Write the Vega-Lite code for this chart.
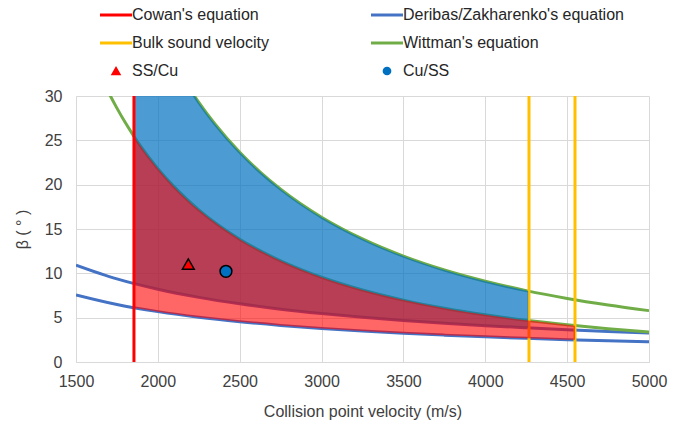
{
  "$schema": "https://vega.github.io/schema/vega-lite/v6.json",
  "width": 573,
  "height": 266,
  "autosize": {"type": "none"},
  "padding": {"left": 76, "top": 96, "right": 31, "bottom": 59},
  "background": "white",
  "config": {
    "font": "Liberation Sans",
    "view": {"stroke": null},
    "axis": {
      "gridColor": "#d9d9d9",
      "gridWidth": 1,
      "domainColor": "#d9d9d9",
      "domainWidth": 1,
      "ticks": false,
      "labelFontSize": 16,
      "labelColor": "#404040",
      "titleFontSize": 16,
      "titleFontWeight": "normal",
      "titleColor": "#404040"
    }
  },
  "datasets": {
    "curves": [
      {"series": "Deribas/Zakharenko's equation", "curve": "d1", "V": 1500, "beta": 7.57},
      {"series": "Deribas/Zakharenko's equation", "curve": "d1", "V": 1750, "beta": 6.49},
      {"series": "Deribas/Zakharenko's equation", "curve": "d1", "V": 2000, "beta": 5.68},
      {"series": "Deribas/Zakharenko's equation", "curve": "d1", "V": 2250, "beta": 5.04},
      {"series": "Deribas/Zakharenko's equation", "curve": "d1", "V": 2500, "beta": 4.54},
      {"series": "Deribas/Zakharenko's equation", "curve": "d1", "V": 2750, "beta": 4.13},
      {"series": "Deribas/Zakharenko's equation", "curve": "d1", "V": 3000, "beta": 3.78},
      {"series": "Deribas/Zakharenko's equation", "curve": "d1", "V": 3250, "beta": 3.49},
      {"series": "Deribas/Zakharenko's equation", "curve": "d1", "V": 3500, "beta": 3.24},
      {"series": "Deribas/Zakharenko's equation", "curve": "d1", "V": 3750, "beta": 3.03},
      {"series": "Deribas/Zakharenko's equation", "curve": "d1", "V": 4000, "beta": 2.84},
      {"series": "Deribas/Zakharenko's equation", "curve": "d1", "V": 4250, "beta": 2.67},
      {"series": "Deribas/Zakharenko's equation", "curve": "d1", "V": 4500, "beta": 2.52},
      {"series": "Deribas/Zakharenko's equation", "curve": "d1", "V": 4750, "beta": 2.39},
      {"series": "Deribas/Zakharenko's equation", "curve": "d1", "V": 5000, "beta": 2.27},
      {"series": "Deribas/Zakharenko's equation", "curve": "d2", "V": 1500, "beta": 10.93},
      {"series": "Deribas/Zakharenko's equation", "curve": "d2", "V": 1750, "beta": 9.37},
      {"series": "Deribas/Zakharenko's equation", "curve": "d2", "V": 2000, "beta": 8.2},
      {"series": "Deribas/Zakharenko's equation", "curve": "d2", "V": 2250, "beta": 7.29},
      {"series": "Deribas/Zakharenko's equation", "curve": "d2", "V": 2500, "beta": 6.56},
      {"series": "Deribas/Zakharenko's equation", "curve": "d2", "V": 2750, "beta": 5.96},
      {"series": "Deribas/Zakharenko's equation", "curve": "d2", "V": 3000, "beta": 5.47},
      {"series": "Deribas/Zakharenko's equation", "curve": "d2", "V": 3250, "beta": 5.05},
      {"series": "Deribas/Zakharenko's equation", "curve": "d2", "V": 3500, "beta": 4.69},
      {"series": "Deribas/Zakharenko's equation", "curve": "d2", "V": 3750, "beta": 4.37},
      {"series": "Deribas/Zakharenko's equation", "curve": "d2", "V": 4000, "beta": 4.1},
      {"series": "Deribas/Zakharenko's equation", "curve": "d2", "V": 4250, "beta": 3.86},
      {"series": "Deribas/Zakharenko's equation", "curve": "d2", "V": 4500, "beta": 3.64},
      {"series": "Deribas/Zakharenko's equation", "curve": "d2", "V": 4750, "beta": 3.45},
      {"series": "Deribas/Zakharenko's equation", "curve": "d2", "V": 5000, "beta": 3.28},
      {"series": "Wittman's equation", "curve": "w1", "V": 1650, "beta": 32.27},
      {"series": "Wittman's equation", "curve": "w1", "V": 1700, "beta": 30.37},
      {"series": "Wittman's equation", "curve": "w1", "V": 1750, "beta": 28.63},
      {"series": "Wittman's equation", "curve": "w1", "V": 1800, "beta": 27.03},
      {"series": "Wittman's equation", "curve": "w1", "V": 1854, "beta": 25.45},
      {"series": "Wittman's equation", "curve": "w1", "V": 1900, "beta": 24.21},
      {"series": "Wittman's equation", "curve": "w1", "V": 2000, "beta": 21.81},
      {"series": "Wittman's equation", "curve": "w1", "V": 2100, "beta": 19.75},
      {"series": "Wittman's equation", "curve": "w1", "V": 2250, "beta": 17.16},
      {"series": "Wittman's equation", "curve": "w1", "V": 2500, "beta": 13.85},
      {"series": "Wittman's equation", "curve": "w1", "V": 2750, "beta": 11.41},
      {"series": "Wittman's equation", "curve": "w1", "V": 3000, "beta": 9.56},
      {"series": "Wittman's equation", "curve": "w1", "V": 3250, "beta": 8.12},
      {"series": "Wittman's equation", "curve": "w1", "V": 3500, "beta": 6.98},
      {"series": "Wittman's equation", "curve": "w1", "V": 3750, "beta": 6.07},
      {"series": "Wittman's equation", "curve": "w1", "V": 4000, "beta": 5.32},
      {"series": "Wittman's equation", "curve": "w1", "V": 4250, "beta": 4.7},
      {"series": "Wittman's equation", "curve": "w1", "V": 4500, "beta": 4.19},
      {"series": "Wittman's equation", "curve": "w1", "V": 4750, "beta": 3.75},
      {"series": "Wittman's equation", "curve": "w1", "V": 5000, "beta": 3.38},
      {"series": "Wittman's equation", "curve": "w2", "V": 2150, "beta": 32.1},
      {"series": "Wittman's equation", "curve": "w2", "V": 2200, "beta": 30.65},
      {"series": "Wittman's equation", "curve": "w2", "V": 2250, "beta": 29.28},
      {"series": "Wittman's equation", "curve": "w2", "V": 2350, "beta": 26.81},
      {"series": "Wittman's equation", "curve": "w2", "V": 2500, "beta": 23.65},
      {"series": "Wittman's equation", "curve": "w2", "V": 2625, "beta": 21.42},
      {"series": "Wittman's equation", "curve": "w2", "V": 2750, "beta": 19.49},
      {"series": "Wittman's equation", "curve": "w2", "V": 3000, "beta": 16.33},
      {"series": "Wittman's equation", "curve": "w2", "V": 3250, "beta": 13.88},
      {"series": "Wittman's equation", "curve": "w2", "V": 3500, "beta": 11.94},
      {"series": "Wittman's equation", "curve": "w2", "V": 3750, "beta": 10.38},
      {"series": "Wittman's equation", "curve": "w2", "V": 4000, "beta": 9.11},
      {"series": "Wittman's equation", "curve": "w2", "V": 4250, "beta": 8.05},
      {"series": "Wittman's equation", "curve": "w2", "V": 4500, "beta": 7.17},
      {"series": "Wittman's equation", "curve": "w2", "V": 4750, "beta": 6.43},
      {"series": "Wittman's equation", "curve": "w2", "V": 5000, "beta": 5.79},
      {"series": "Bulk sound velocity", "curve": "b1", "V": 4267, "beta": 0},
      {"series": "Bulk sound velocity", "curve": "b1", "V": 4267, "beta": 30},
      {"series": "Bulk sound velocity", "curve": "b2", "V": 4548, "beta": 0},
      {"series": "Bulk sound velocity", "curve": "b2", "V": 4548, "beta": 30}
    ],
    "cowan": [
      {"series": "Cowan's equation", "curve": "c1", "V": 1854, "beta": 0},
      {"series": "Cowan's equation", "curve": "c1", "V": 1854, "beta": 30}
    ],
    "blueArea": [
      {"V": 1854, "lo": 8.85, "hi": 30},
      {"V": 2000, "lo": 8.2, "hi": 30},
      {"V": 2222, "lo": 7.38, "hi": 30},
      {"V": 2250, "lo": 7.29, "hi": 29.28},
      {"V": 2350, "lo": 6.98, "hi": 26.81},
      {"V": 2500, "lo": 6.56, "hi": 23.65},
      {"V": 2625, "lo": 6.25, "hi": 21.42},
      {"V": 2750, "lo": 5.96, "hi": 19.49},
      {"V": 3000, "lo": 5.47, "hi": 16.33},
      {"V": 3250, "lo": 5.05, "hi": 13.88},
      {"V": 3500, "lo": 4.69, "hi": 11.94},
      {"V": 3750, "lo": 4.37, "hi": 10.38},
      {"V": 4000, "lo": 4.1, "hi": 9.11},
      {"V": 4262, "lo": 3.85, "hi": 8.01}
    ],
    "redArea": [
      {"V": 1854, "lo": 6.12, "hi": 25.45},
      {"V": 1900, "lo": 5.97, "hi": 24.21},
      {"V": 2000, "lo": 5.68, "hi": 21.81},
      {"V": 2100, "lo": 5.4, "hi": 19.75},
      {"V": 2250, "lo": 5.04, "hi": 17.16},
      {"V": 2500, "lo": 4.54, "hi": 13.85},
      {"V": 2750, "lo": 4.13, "hi": 11.41},
      {"V": 3000, "lo": 3.78, "hi": 9.56},
      {"V": 3250, "lo": 3.49, "hi": 8.12},
      {"V": 3500, "lo": 3.24, "hi": 6.98},
      {"V": 3750, "lo": 3.03, "hi": 6.07},
      {"V": 4000, "lo": 2.84, "hi": 5.32},
      {"V": 4250, "lo": 2.67, "hi": 4.7},
      {"V": 4500, "lo": 2.52, "hi": 4.19},
      {"V": 4548, "lo": 2.5, "hi": 4.1}
    ],
    "points": [
      {"series": "SS/Cu", "V": 2186, "beta": 11.05},
      {"series": "Cu/SS", "V": 2416, "beta": 10.23}
    ]
  },
  "encoding": {
    "x": {
      "field": "V",
      "type": "quantitative",
      "scale": {"domain": [1500, 5000], "nice": false, "zero": false},
      "axis": {
        "title": "Collision point velocity (m/s)",
        "values": [1500, 2000, 2500, 3000, 3500, 4000, 4500, 5000],
        "format": "d",
        "labelPadding": 11,
        "titlePadding": 14,
        "labelFlush": false
      }
    },
    "y": {
      "field": "beta",
      "type": "quantitative",
      "scale": {"domain": [0, 30], "nice": false},
      "axis": {
        "title": "β ( ° )",
        "values": [0, 5, 10, 15, 20, 25, 30],
        "labelPadding": 14,
        "titlePadding": 14
      }
    }
  },
  "layer": [
    {
      "data": {"name": "curves"},
      "mark": {"type": "line", "strokeWidth": 3, "interpolate": "monotone", "clip": true},
      "encoding": {
        "color": {
          "field": "series",
          "type": "nominal",
          "scale": {
            "domain": ["Cowan's equation", "Bulk sound velocity", "SS/Cu", "Deribas/Zakharenko's equation", "Wittman's equation", "Cu/SS"],
            "range": ["#FF0000", "#FFC000", "#FF0000", "#4472C4", "#70AD47", "#0070C0"]
          },
          "legend": {
            "orient": "none",
            "legendX": 32,
            "legendY": -89,
            "columns": 2,
            "title": null,
            "padding": 0,
            "symbolType": "stroke",
            "symbolSize": 1024,
            "symbolStrokeWidth": 3,
            "labelFontSize": 16,
            "labelColor": "#262626",
            "labelOffset": 8,
            "labelLimit": 400,
            "rowPadding": 12,
            "columnPadding": 96,
            "encode": {
              "symbols": {
                "update": {
                  "shape": {"signal": "datum.value == 'SS/Cu' ? 'triangle-up' : datum.value == 'Cu/SS' ? 'circle' : 'stroke'"},
                  "size": {"signal": "datum.value == 'SS/Cu' ? 64 : datum.value == 'Cu/SS' ? 52 : 1024"},
                  "fill": {"signal": "datum.value == 'SS/Cu' ? '#FF0000' : datum.value == 'Cu/SS' ? '#0070C0' : 'transparent'"},
                  "stroke": {"signal": "datum.value == 'SS/Cu' || datum.value == 'Cu/SS' ? '#000000' : datum.value == \"Cowan's equation\" ? '#FF0000' : datum.value == 'Bulk sound velocity' ? '#FFC000' : datum.value == \"Wittman's equation\" ? '#70AD47' : '#4472C4'"},
                  "strokeWidth": {"signal": "datum.value == 'SS/Cu' || datum.value == 'Cu/SS' ? 1.5 : 3"},
                  "opacity": {"value": 1}
                }
              }
            }
          }
        },
        "detail": {"field": "curve"}
      }
    },
    {
      "data": {"name": "blueArea"},
      "mark": {"type": "area", "color": "#0070C0", "opacity": 0.7, "interpolate": "monotone", "clip": true},
      "encoding": {
        "y": {"field": "lo", "type": "quantitative"},
        "y2": {"field": "hi"}
      }
    },
    {
      "data": {"name": "redArea"},
      "mark": {"type": "area", "color": "#FF0000", "opacity": 0.6, "interpolate": "monotone", "clip": true},
      "encoding": {
        "y": {"field": "lo", "type": "quantitative"},
        "y2": {"field": "hi"}
      }
    },
    {
      "data": {"name": "cowan"},
      "mark": {"type": "line", "strokeWidth": 3, "clip": true},
      "encoding": {
        "color": {"field": "series", "type": "nominal"},
        "detail": {"field": "curve"}
      }
    },
    {
      "data": {"name": "points"},
      "mark": {"type": "point", "filled": true, "stroke": "#000000", "strokeWidth": 1.5, "size": 140, "opacity": 1},
      "encoding": {
        "color": {"field": "series", "type": "nominal"},
        "shape": {
          "field": "series",
          "type": "nominal",
          "scale": {"domain": ["SS/Cu", "Cu/SS"], "range": ["triangle-up", "circle"]},
          "legend": null
        }
      }
    }
  ]
}
